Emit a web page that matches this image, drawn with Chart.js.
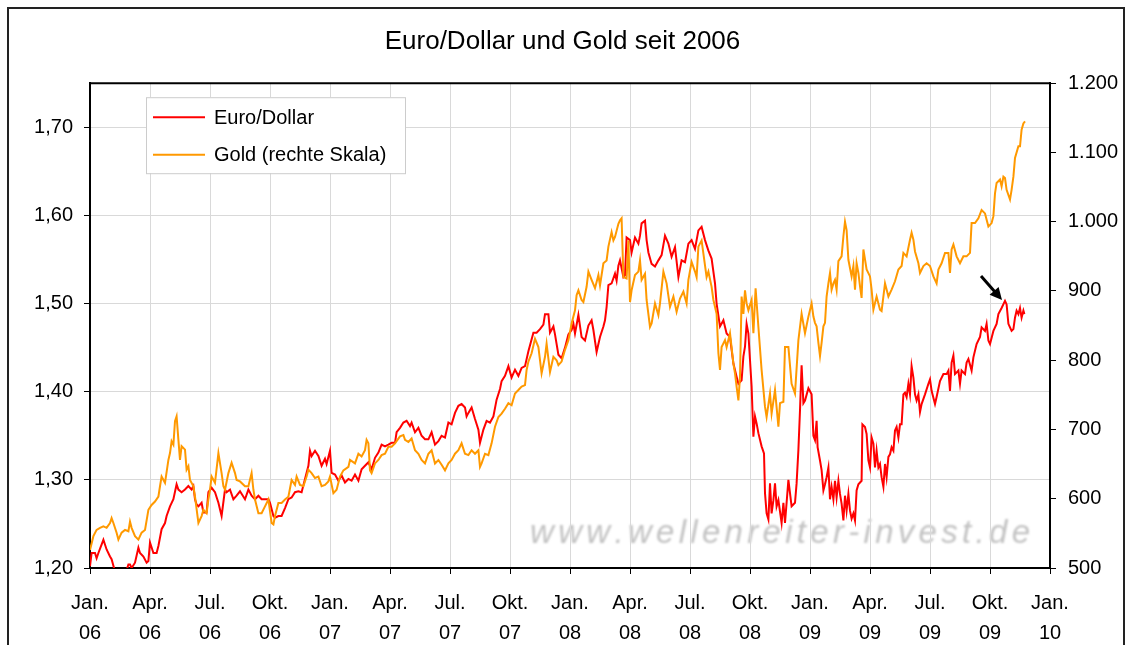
<!DOCTYPE html>
<html>
<head>
<meta charset="utf-8">
<title>Euro/Dollar und Gold seit 2006</title>
<script src="https://cdn.jsdelivr.net/npm/chart.js@4"></script>
<style>
  html, body { margin: 0; padding: 0; background: #fff; }
  #wrap { position: relative; width: 1125px; height: 645px; overflow: hidden; }
  #frame { position: absolute; left: 7px; top: 7px; width: 1114px; height: 700px; border: 2px solid #222; }
  canvas { position: absolute; left: 0; top: 0; }
</style>
</head>
<body>
<div id="wrap">
  <div id="frame"></div>
  <canvas id="myChart" width="1125" height="645"></canvas>
</div>
<script>
// x = months since Jan. 2006
const monthNames = ['Jan.', 'Apr.', 'Jul.', 'Okt.'];
const yearNames = ['06', '07', '08', '09', '10'];
const seriesNames = ['Euro/Dollar', 'Gold (rechte Skala)'];

const eur2006 = [
  [0,1.202],[0.08,1.217],[0.25,1.217],[0.33,1.211],[0.42,1.217],[0.67,1.232],[0.83,1.221],[1.0,1.213],[1.08,1.210],[1.25,1.196],
  [1.5,1.190],[1.75,1.192],[1.92,1.204],[2.0,1.204],[2.08,1.200],[2.25,1.206],[2.42,1.223],[2.5,1.217],[2.67,1.213],[2.83,1.206],
  [2.92,1.208],[3.0,1.229],[3.17,1.217],[3.33,1.217],[3.42,1.225],[3.58,1.244],[3.75,1.251],[3.83,1.259],[4.0,1.270],[4.17,1.278],
  [4.33,1.295],[4.42,1.289],[4.58,1.286],[4.75,1.289],[4.92,1.293],[5.08,1.289],[5.17,1.293],[5.25,1.278],[5.33,1.272],[5.42,1.270],
  [5.58,1.274],[5.67,1.263],[5.83,1.263],[5.92,1.286],[6.08,1.291],[6.25,1.286],[6.42,1.274],[6.58,1.259],[6.75,1.289],[6.83,1.286],
  [7.0,1.289],[7.17,1.278],[7.33,1.282],[7.5,1.287],[7.75,1.278],[7.92,1.289],[8.08,1.282],[8.25,1.278],[8.42,1.282],[8.58,1.278],
  [8.92,1.278],[9.0,1.274],[9.17,1.259],[9.25,1.257],[9.42,1.259],[9.58,1.259],[9.75,1.268],[9.92,1.278],[10.08,1.280],[10.25,1.286],
  [10.42,1.287],[10.58,1.286],[10.75,1.301],[10.92,1.316],[11.0,1.333],[11.08,1.327],[11.25,1.333],[11.42,1.327],[11.58,1.316],[11.75,1.324],
  [11.83,1.318]
];
const eur2007 = [
  [12.0,1.333],[12.08,1.308],[12.25,1.306],[12.42,1.299],[12.58,1.305],[12.75,1.297],[12.92,1.301],[13.08,1.299],[13.25,1.306],[13.42,1.299],
  [13.58,1.312],[13.75,1.316],[13.92,1.320],[14.08,1.312],[14.25,1.325],[14.42,1.331],[14.58,1.340],[14.75,1.338],[14.92,1.340],[15.08,1.342],
  [15.25,1.342],[15.33,1.354],[15.5,1.359],[15.67,1.365],[15.83,1.367],[16.0,1.361],[16.08,1.365],[16.25,1.354],[16.42,1.359],[16.58,1.350],
  [16.75,1.346],[16.92,1.346],[17.08,1.354],[17.25,1.340],[17.42,1.344],[17.58,1.350],[17.75,1.348],[17.92,1.365],[18.08,1.363],[18.25,1.376],
  [18.42,1.384],[18.58,1.386],[18.75,1.382],[18.83,1.372],[18.92,1.376],[19.08,1.382],[19.25,1.369],[19.42,1.357],[19.5,1.342],[19.67,1.357],
  [19.83,1.367],[20.0,1.365],[20.17,1.372],[20.33,1.391],[20.5,1.403],[20.58,1.412],[20.75,1.418],[20.92,1.429],[21.08,1.416],[21.25,1.425],
  [21.42,1.418],[21.58,1.427],[21.75,1.429],[21.92,1.446],[22.17,1.467],[22.33,1.467],[22.5,1.471],[22.67,1.476],[22.75,1.488],[22.92,1.488],
  [23.0,1.467],[23.17,1.474],[23.25,1.465],[23.42,1.442],[23.58,1.438],[23.75,1.450],[23.92,1.465]
];
const eur2008 = [
  [24.08,1.470],[24.17,1.477],[24.25,1.466],[24.42,1.487],[24.58,1.462],[24.75,1.458],[24.92,1.475],[25.08,1.481],[25.17,1.470],[25.33,1.445],
  [25.5,1.462],[25.67,1.474],[25.75,1.481],[25.83,1.496],[25.92,1.521],[26.08,1.523],[26.25,1.534],[26.33,1.526],[26.42,1.543],[26.5,1.549],
  [26.67,1.530],[26.75,1.532],[26.83,1.575],[27.0,1.572],[27.08,1.558],[27.25,1.575],[27.42,1.568],[27.5,1.577],[27.58,1.591],[27.75,1.594],
  [27.83,1.572],[27.92,1.558],[28.08,1.545],[28.25,1.542],[28.42,1.549],[28.58,1.555],[28.75,1.577],[28.92,1.568],[29.08,1.553],[29.25,1.564],
  [29.42,1.530],[29.58,1.549],[29.75,1.547],[29.92,1.568],[30.08,1.572],[30.25,1.562],[30.42,1.583],[30.58,1.587],[30.75,1.572],[30.92,1.560],
  [31.08,1.551],[31.25,1.523],[31.33,1.500],[31.5,1.474],[31.67,1.481],[31.83,1.466],[32.0,1.462],[32.17,1.432],[32.33,1.417],[32.42,1.409],
  [32.58,1.413],[32.67,1.440],[32.75,1.451],[32.83,1.477],[32.92,1.466],[33.0,1.436],[33.08,1.406],[33.17,1.349],[33.25,1.372],[33.33,1.364],
  [33.42,1.353],[33.58,1.338],[33.7,1.330],[33.75,1.285],[33.83,1.262],[33.92,1.255],[34.0,1.296],[34.08,1.262],[34.17,1.277],[34.25,1.296],
  [34.33,1.270],[34.42,1.277],[34.58,1.251],[34.67,1.274],[34.75,1.251],[34.92,1.300],[35.0,1.285],[35.08,1.270],[35.25,1.274],[35.33,1.296],
  [35.42,1.334],[35.5,1.379],[35.58,1.430],[35.67,1.387],[35.75,1.390],[35.92,1.404]
];
const eur2009 = [
  [36.08,1.397],[36.17,1.350],[36.25,1.345],[36.33,1.367],[36.38,1.337],[36.5,1.322],[36.58,1.311],[36.67,1.288],[36.75,1.295],[36.83,1.303],
  [36.92,1.314],[37.0,1.278],[37.08,1.292],[37.17,1.278],[37.25,1.299],[37.33,1.280],[37.42,1.299],[37.5,1.284],[37.58,1.273],[37.67,1.254],
  [37.75,1.282],[37.83,1.265],[37.92,1.284],[38.0,1.265],[38.08,1.256],[38.17,1.262],[38.25,1.254],[38.33,1.288],[38.42,1.295],[38.58,1.299],
  [38.62,1.363],[38.75,1.360],[38.83,1.352],[38.92,1.322],[39.0,1.314],[39.08,1.348],[39.17,1.341],[39.25,1.314],[39.33,1.333],[39.42,1.314],
  [39.5,1.318],[39.58,1.303],[39.67,1.292],[39.75,1.318],[39.83,1.303],[39.92,1.326],[40.0,1.329],[40.08,1.337],[40.17,1.333],[40.25,1.356],
  [40.33,1.360],[40.42,1.348],[40.5,1.363],[40.58,1.363],[40.67,1.397],[40.75,1.399],[40.83,1.394],[40.92,1.409],[41.0,1.397],[41.08,1.429],
  [41.17,1.416],[41.25,1.397],[41.33,1.390],[41.42,1.397],[41.5,1.377],[41.58,1.386],[41.75,1.397],[41.92,1.409],[42.0,1.414],[42.08,1.401],
  [42.25,1.386],[42.33,1.394],[42.5,1.412],[42.67,1.420],[42.83,1.420],[42.92,1.424],[43.0,1.401],[43.08,1.433],[43.17,1.441],[43.25,1.420],
  [43.42,1.424],[43.5,1.409],[43.58,1.424],[43.75,1.420],[43.83,1.433],[43.92,1.437],[44.08,1.424],[44.17,1.439],[44.33,1.454],[44.5,1.462],
  [44.58,1.473],[44.75,1.469],[44.83,1.477],[44.92,1.458],[45.0,1.454],[45.17,1.469],[45.33,1.477],[45.42,1.488],[45.58,1.495],[45.75,1.503],
  [45.83,1.499],[45.92,1.477],[46.0,1.473],[46.08,1.469],[46.17,1.471],[46.25,1.484],[46.33,1.492],[46.42,1.488],[46.5,1.495],[46.58,1.484],
  [46.67,1.492],[46.72,1.488]
];

const gold2006 = [
  [0,526],[0.17,546],[0.33,555],[0.5,558],[0.67,560],[0.83,558],[1.0,565],[1.08,572],[1.17,565],[1.33,551],
  [1.42,541],[1.58,551],[1.75,555],[1.92,553],[2.0,567],[2.08,558],[2.25,546],[2.42,541],[2.58,551],[2.75,555],
  [2.92,584],[3.08,591],[3.25,596],[3.42,603],[3.5,618],[3.58,632],[3.75,623],[3.92,656],[4.0,666],[4.08,683],
  [4.17,678],[4.25,712],[4.33,719],[4.42,685],[4.5,656],[4.58,676],[4.75,671],[4.83,642],[4.92,647],[5.0,627],
  [5.17,618],[5.25,603],[5.42,565],[5.58,575],[5.67,584],[5.83,579],[5.92,599],[6.0,613],[6.08,632],[6.25,623],
  [6.42,666],[6.58,637],[6.67,618],[6.75,613],[6.92,637],[7.08,652],[7.25,637],[7.33,627],[7.5,625],[7.75,618],
  [7.92,618],[8.08,637],[8.17,613],[8.25,599],[8.42,579],[8.58,579],[8.75,589],[8.92,599],[9.08,565],[9.17,563],
  [9.25,575],[9.42,594],[9.58,594],[9.75,599],[9.92,603],[10.08,627],[10.25,620],[10.33,632],[10.5,620],[10.67,618],
  [10.83,632],[10.92,642],[11.08,637],[11.25,630],[11.42,632],[11.58,618],[11.75,620],[11.92,625]
];
const gold2007 = [
  [12.0,632],[12.17,608],[12.33,613],[12.5,632],[12.67,641],[12.92,646],[13.0,656],[13.25,651],[13.42,665],[13.58,661],
  [13.75,670],[13.83,685],[13.92,680],[14.0,641],[14.08,637],[14.25,651],[14.42,656],[14.58,663],[14.75,665],[14.92,675],
  [15.08,675],[15.25,680],[15.5,690],[15.67,692],[15.75,685],[15.92,682],[16.08,687],[16.25,670],[16.42,665],[16.58,656],
  [16.75,651],[16.92,665],[17.08,670],[17.25,651],[17.42,656],[17.58,649],[17.75,641],[17.92,651],[18.08,656],[18.25,665],
  [18.42,670],[18.58,680],[18.75,665],[18.92,663],[19.08,670],[19.25,665],[19.42,670],[19.5,646],[19.58,651],[19.75,665],
  [19.92,663],[20.08,680],[20.25,704],[20.42,718],[20.58,723],[20.75,730],[20.92,738],[21.08,735],[21.25,752],[21.42,757],
  [21.58,762],[21.75,764],[21.83,786],[21.92,798],[22.08,810],[22.25,831],[22.42,819],[22.58,781],[22.75,805],[22.83,824],
  [23.0,783],[23.17,805],[23.33,800],[23.42,793],[23.58,798],[23.75,815],[23.92,829]
];
const gold2008 = [
  [24.08,853],[24.25,872],[24.33,894],[24.42,901],[24.58,887],[24.67,884],[24.83,906],[24.92,928],[25.08,916],[25.25,904],
  [25.42,923],[25.5,908],[25.67,940],[25.83,944],[25.92,964],[26.08,985],[26.17,973],[26.25,978],[26.42,997],[26.5,1002],
  [26.58,1005],[26.67,920],[26.83,918],[26.92,973],[27.0,884],[27.08,901],[27.25,923],[27.42,928],[27.5,944],[27.58,916],
  [27.75,925],[27.83,887],[28.0,848],[28.08,853],[28.25,882],[28.42,865],[28.5,882],[28.67,928],[28.83,911],[29.0,877],
  [29.17,892],[29.33,870],[29.5,889],[29.67,899],[29.83,882],[29.92,916],[30.08,942],[30.25,928],[30.33,920],[30.42,964],
  [30.58,973],[30.67,954],[30.83,920],[30.92,928],[31.08,906],[31.17,887],[31.33,867],[31.42,810],[31.5,786],[31.58,819],
  [31.75,829],[31.83,819],[32.0,839],[32.17,795],[32.25,781],[32.33,762],[32.42,742],[32.5,776],[32.58,892],[32.67,867],
  [32.75,901],[32.83,882],[32.92,872],[33.08,887],[33.17,839],[33.28,904],[33.42,848],[33.58,786],[33.75,733],[33.83,718],
  [34.0,752],[34.08,723],[34.25,757],[34.42,704],[34.5,738],[34.67,740],[34.75,819],[34.92,819],[35.08,766],[35.25,752],
  [35.42,829],[35.58,867],[35.75,839],[35.92,863]
];
const gold2009 = [
  [36.08,882],[36.17,863],[36.25,854],[36.33,849],[36.42,825],[36.5,806],[36.58,825],[36.67,849],[36.75,854],[36.83,892],
  [36.92,911],[37.0,926],[37.08,902],[37.17,911],[37.25,916],[37.33,902],[37.42,943],[37.58,950],[37.67,979],[37.75,1000],
  [37.83,988],[37.92,945],[38.08,921],[38.17,936],[38.25,902],[38.33,940],[38.42,926],[38.5,907],[38.58,890],[38.67,960],
  [38.83,931],[39.0,921],[39.08,902],[39.17,873],[39.33,892],[39.5,873],[39.58,871],[39.75,911],[39.92,892],[40.08,902],
  [40.25,914],[40.42,931],[40.58,936],[40.67,955],[40.83,950],[41.0,974],[41.08,984],[41.17,974],[41.25,957],[41.42,940],
  [41.5,926],[41.67,936],[41.83,940],[42.0,936],[42.17,921],[42.33,911],[42.42,931],[42.58,940],[42.75,955],[42.92,955],
  [43.0,926],[43.08,960],[43.17,967],[43.33,950],[43.5,940],[43.67,950],[43.83,950],[44.0,955],[44.08,998],[44.25,998],
  [44.42,1005],[44.58,1017],[44.75,1012],[44.92,993],[45.08,998],[45.17,1008],[45.25,1041],[45.33,1056],[45.5,1061],[45.58,1051],
  [45.67,1065],[45.75,1063],[45.83,1046],[46.0,1032],[46.08,1046],[46.17,1065],[46.25,1092],[46.42,1109],[46.5,1109],[46.58,1133],
  [46.67,1142],[46.75,1145]
];

const FONT = "'Liberation Sans', Arial, sans-serif";
Chart.defaults.font.family = FONT;
Chart.defaults.font.size = 20;
Chart.defaults.color = '#000';

const toPoints = rows => rows.map(r => ({ x: r[0], y: r[1] }));
const eurRows = [...eur2006, ...eur2007, ...eur2008, ...eur2009];
const goldRows = [...gold2006, ...gold2007, ...gold2008, ...gold2009];

// watermark (under the grid), legend box, top frame and the arrow
const decorations = {
    id: 'decorations',
    beforeDraw(chart) {
        const { ctx, chartArea: a } = chart;
        if (!a) return;
        const text = 'www.wellenreiter-invest.de';
        const gap = 4.3;
        ctx.save();
        ctx.font = 'italic 33px ' + FONT;
        ctx.fillStyle = '#c2c2c2';
        ctx.filter = 'blur(0.8px)';
        let w = -gap;
        for (const ch of text) w += ctx.measureText(ch).width + gap;
        let x = a.right - 20 - w;
        const y = a.bottom - 25;
        for (const ch of text) {
            ctx.fillText(ch, x, y);
            x += ctx.measureText(ch).width + gap;
        }
        ctx.restore();
    },
    afterDraw(chart) {
        const { ctx, chartArea: a, scales } = chart;
        ctx.save();

        ctx.strokeStyle = '#000';
        ctx.lineWidth = 2;
        ctx.beginPath();
        ctx.moveTo(a.left - 1, a.top);
        ctx.lineTo(a.right + 1, a.top);
        ctx.stroke();

        const lx = a.left + 56, ly = a.top + 14, lw = 259, lh = 76;
        ctx.fillStyle = '#fff';
        ctx.fillRect(lx, ly, lw, lh);
        ctx.strokeStyle = '#cccccc';
        ctx.lineWidth = 1;
        ctx.strokeRect(lx + 0.5, ly + 0.5, lw, lh);
        ctx.font = '20px ' + FONT;
        ctx.textBaseline = 'middle';
        chart.data.datasets.forEach((ds, i) => {
            const yy = ly + 20 + i * 37.5;
            ctx.strokeStyle = ds.borderColor;
            ctx.lineWidth = 2;
            ctx.beginPath();
            ctx.moveTo(lx + 7, yy);
            ctx.lineTo(lx + 59, yy);
            ctx.stroke();
            ctx.fillStyle = '#000';
            ctx.fillText(ds.label, lx + 68, yy + 1);
        });

        // arrow pointing at the 2009 euro high
        const peak = eur2009.reduce((m, r) => (r[1] > m[1] ? r : m));
        const tx = scales.x.getPixelForValue(peak[0]) - 3;
        const ty = scales.y.getPixelForValue(peak[1]) - 1;
        const sx = tx - 21, sy = ty - 24;
        const ang = Math.atan2(ty - sy, tx - sx);
        ctx.strokeStyle = '#000';
        ctx.fillStyle = '#000';
        ctx.lineWidth = 3;
        ctx.beginPath();
        ctx.moveTo(sx, sy);
        ctx.lineTo(tx - 8 * Math.cos(ang), ty - 8 * Math.sin(ang));
        ctx.stroke();
        ctx.beginPath();
        ctx.moveTo(tx, ty);
        ctx.lineTo(tx - 12 * Math.cos(ang) + 6 * Math.sin(ang), ty - 12 * Math.sin(ang) - 6 * Math.cos(ang));
        ctx.lineTo(tx - 12 * Math.cos(ang) - 6 * Math.sin(ang), ty - 12 * Math.sin(ang) + 6 * Math.cos(ang));
        ctx.closePath();
        ctx.fill();
        ctx.restore();
    }
};

const ctx = document.getElementById('myChart').getContext('2d');
new Chart(ctx, {
    type: 'line',
    data: {
        datasets: [{
            label: seriesNames[0],
            data: toPoints(eurRows),
            yAxisID: 'y',
            borderColor: '#ff0000',
            borderWidth: 2,
            pointRadius: 0,
            tension: 0,
            order: 1
        }, {
            label: seriesNames[1],
            data: toPoints(goldRows),
            yAxisID: 'y1',
            borderColor: '#ff9900',
            borderWidth: 2,
            pointRadius: 0,
            tension: 0,
            order: 0
        }]
    },
    options: {
        responsive: false,
        animation: false,
        layout: { padding: 0 },
        plugins: {
            legend: { display: false },
            tooltip: { enabled: false },
            title: {
                display: true,
                text: 'Euro/Dollar und Gold seit 2006',
                font: { size: 26, weight: 'normal' },
                color: '#000',
                padding: { top: 26, bottom: 26 }
            }
        },
        scales: {
            x: {
                type: 'linear',
                min: 0,
                max: 48,
                afterFit: s => { s.height = 77; },
                ticks: {
                    stepSize: 3,
                    autoSkip: false,
                    maxRotation: 0,
                    padding: 14,
                    font: { size: 20, lineHeight: 1.5 },
                    callback: v => [monthNames[(v / 3) % 4], yearNames[Math.floor(v / 12)]]
                },
                grid: { color: '#d9d9d9', tickColor: '#000', tickLength: 6 },
                border: { color: '#000', width: 2 }
            },
            y: {
                position: 'left',
                min: 1.2,
                max: 1.75,
                afterFit: s => { s.width = 90; },
                ticks: {
                    stepSize: 0.1,
                    includeBounds: false,
                    padding: 11,
                    callback: v => v.toFixed(2).replace('.', ',')
                },
                grid: { color: '#d9d9d9', tickColor: '#000', tickLength: 6 },
                border: { color: '#000', width: 2 }
            },
            y1: {
                position: 'right',
                min: 500,
                max: 1200,
                afterFit: s => { s.width = 75; },
                ticks: {
                    stepSize: 100,
                    padding: 12,
                    callback: v => v >= 1000 ? Math.floor(v / 1000) + '.' + String(v % 1000).padStart(3, '0') : String(v)
                },
                grid: { drawOnChartArea: false, tickColor: '#000', tickLength: 6 },
                border: { color: '#000', width: 2 }
            }
        }
    },
    plugins: [decorations]
});
</script>
</body>
</html>
